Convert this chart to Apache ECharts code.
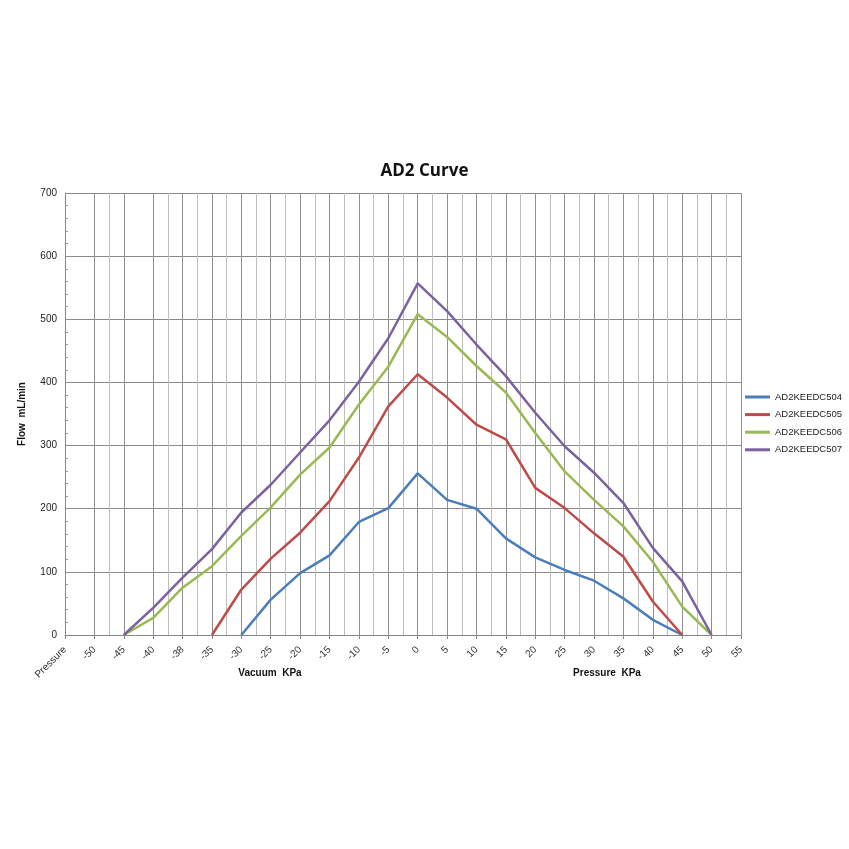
<!DOCTYPE html>
<html>
<head>
<meta charset="utf-8">
<title>AD2 Curve</title>
<script src="https://cdn.jsdelivr.net/npm/echarts@6/dist/echarts.min.js"></script>
<style>
  html, body { margin: 0; padding: 0; background: #fff; }
  #chart { width: 849px; height: 849px; }
</style>
</head>
<body>
<div id="chart"></div>
<script>
// x categories as printed under the axis
const categories = ['Pressure', '-50', '-45', '-40', '-38', '-35', '-30', '-25', '-20', '-15', '-10', '-5',
  '0', '5', '10', '15', '20', '25', '30', '35', '40', '45', '50', '55'];

const seriesNames = ['AD2KEEDC504', 'AD2KEEDC505', 'AD2KEEDC506', 'AD2KEEDC507'];
const seriesColors = ['#4a7ebb', '#be4b48', '#98b954', '#7d60a0'];

// flow mL/min (null = no point)
const flow504 = [null, null, null, null, null, null, 0, 56, 98, 126, 179, 201, 256, 214, 200, 153, 123, 103, 86, 58, 24, 0, null, null];
const flow505 = [null, null, null, null, null, 0, 72, 121, 162, 212, 281, 362, 413, 376, 333, 310, 233, 201, 161, 124, 53, 0, null, null];
const flow506 = [null, null, 0, 27, 75, 109, 157, 202, 254, 297, 365, 425, 508, 472, 426, 384, 320, 259, 214, 172, 116, 45, 0, null];
const flow507 = [null, null, 0, 43, 91, 136, 194, 238, 289, 340, 401, 470, 557, 513, 460, 410, 352, 299, 257, 209, 138, 85, 0, null];

const yMin = 0;
const yMax = 700;
const yStep = 100;

const allFlows = [flow504, flow505, flow506, flow507];

// helper axis with a slot between every category, only for the light mid gridlines
const halfSteps = [];
categories.forEach((c, i) => {
  halfSteps.push(c);
  if (i < categories.length - 1) halfSteps.push('');
});
// the reference has no mid line at these two gaps
const skipMid = [1, 5];

const chart = echarts.init(document.getElementById('chart'), null, { renderer: 'canvas' });

const option = {
  animation: false,
  backgroundColor: '#ffffff',
  title: {
    text: 'AD2 Curve',
    left: 'center',
    top: 158,
    textStyle: { fontFamily: 'Open Sans', fontSize: 17, fontWeight: 'bold', color: '#111' }
  },
  legend: {
    orient: 'vertical',
    left: 745,
    top: 391,
    padding: 0,
    icon: 'rect',
    itemWidth: 25,
    itemHeight: 3,
    itemGap: 5.6,
    data: seriesNames,
    textStyle: { fontFamily: 'Liberation Sans', fontSize: 9.5, color: '#222', lineHeight: 12 }
  },
  grid: { left: 65, right: 108, top: 193, bottom: 214, containLabel: false },
  xAxis: [
    {
      type: 'category',
      data: categories,
      boundaryGap: false,
      axisLine: { lineStyle: { color: '#868686', width: 1 } },
      axisTick: { show: true, interval: 0, length: 4, lineStyle: { color: '#868686' } },
      axisLabel: {
        interval: 0,
        rotate: 45,
        margin: 13,
        fontFamily: 'Liberation Sans',
        fontSize: 10,
        color: '#333'
      },
      splitLine: { show: true, interval: 0, lineStyle: { color: '#8f8f8f', width: 1 } }
    },
    {
      type: 'category',
      data: halfSteps,
      boundaryGap: false,
      position: 'bottom',
      axisLine: { show: false },
      axisTick: { show: false },
      axisLabel: { show: false },
      splitLine: {
        show: true,
        interval: (idx) => idx % 2 === 1 && skipMid.indexOf(idx) < 0,
        lineStyle: { color: '#bdbdbd', width: 1 }
      }
    }
  ],
  yAxis: {
    type: 'value',
    min: yMin,
    max: yMax,
    interval: yStep,
    name: 'Flow  mL/min',
    nameLocation: 'middle',
    nameGap: 38,
    nameRotate: 90,
    nameTextStyle: { fontFamily: 'Liberation Sans', fontSize: 10, fontWeight: 'bold', color: '#111' },
    axisLine: { show: true, lineStyle: { color: '#868686', width: 1 } },
    axisTick: { show: false, inside: true },
    minorTick: { show: true, splitNumber: 5, length: 3, lineStyle: { color: '#9a9a9a' } },
    axisLabel: { fontFamily: 'Liberation Sans', fontSize: 10, color: '#222', margin: 8 },
    splitLine: { show: true, lineStyle: { color: '#8a8a8a', width: 1 } }
  },
  graphic: [
    {
      type: 'text',
      x: 270, y: 673,
      style: { text: 'Vacuum  KPa', align: 'center', verticalAlign: 'middle',
        font: 'bold 10px "Liberation Sans"', fill: '#111' }
    },
    {
      type: 'text',
      x: 607, y: 673,
      style: { text: 'Pressure  KPa', align: 'center', verticalAlign: 'middle',
        font: 'bold 10px "Liberation Sans"', fill: '#111' }
    }
  ],
  series: seriesNames.map((name, i) => ({
    name: name,
    type: 'line',
    xAxisIndex: 0,
    data: allFlows[i],
    color: seriesColors[i],
    showSymbol: false,
    symbol: 'none',
    connectNulls: false,
    lineStyle: { width: 2.5, color: seriesColors[i] }
  }))
};

chart.setOption(option);
</script>
</body>
</html>
